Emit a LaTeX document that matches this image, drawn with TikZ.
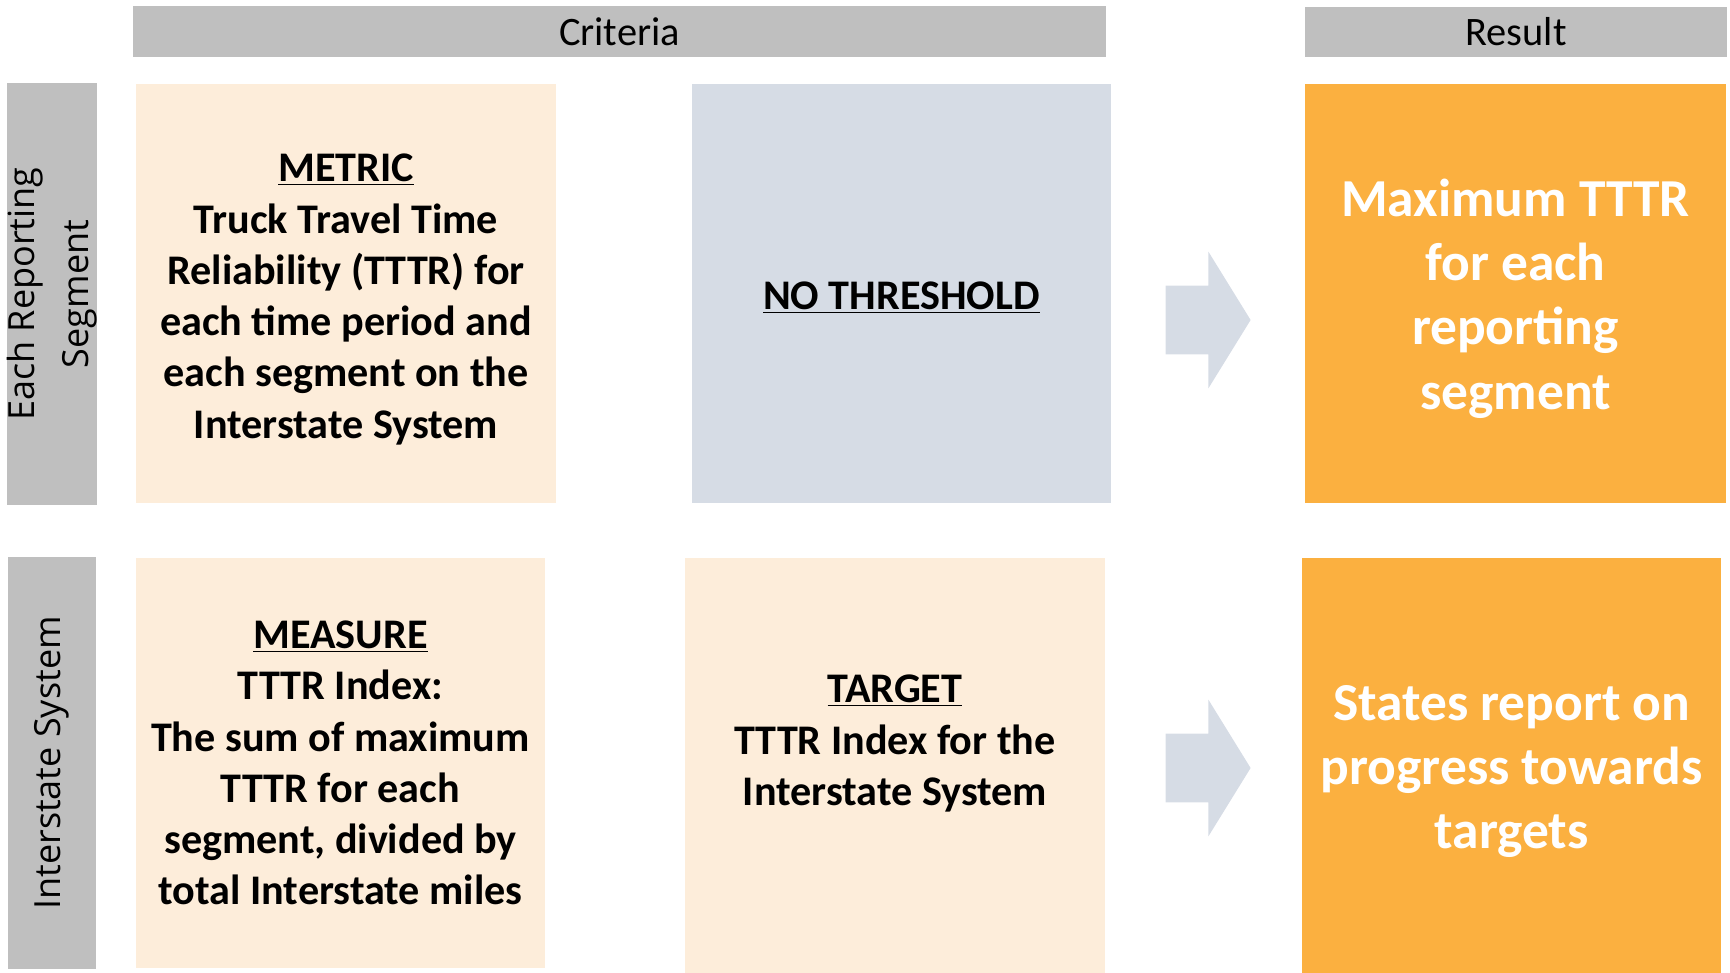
\documentclass[tikz,border=0pt]{standalone}
\usepackage{fontspec}
\setmainfont{Carlito}
\newfontfamily\labelfont{Open Sans}
\usepackage{xcolor}
\definecolor{HeadGray}    {RGB}{191, 191, 191}
\definecolor{PeachFill}   {RGB}{253, 237, 218}
\definecolor{SlateFill}   {RGB}{214, 220, 229}
\definecolor{ResultOrange}{RGB}{251, 176,  64}
\usepackage{tikz}
\usetikzlibrary{
  shapes.arrows,
  positioning
}

\begin{document}
\begin{tikzpicture}[
  headbar/.style={
    fill=HeadGray, inner sep=0pt,
    font=\fontsize{23}{28}\selectfont},
  rowlabel/.style={
    fill=HeadGray, inner sep=0pt,
    rotate=90, align=center,
    minimum height=1.76cm,
    font=\labelfont\fontsize{20.5}{31}\selectfont},
  cell/.style={
    inner sep=0pt},
  celltext/.style={
    inner sep=0pt, align=center,
    font=\bfseries\fontsize{24}{29.2}\selectfont},
  resulttext/.style={
    inner sep=0pt, align=center, text=white,
    font=\bfseries\fontsize{30.4}{36.6}\selectfont},
  flow/.style={
    single arrow, fill=SlateFill, draw=none,
    inner sep=0pt,
    text height=0.68cm, text depth=0.68cm,
    minimum height=1.7cm,
    single arrow head extend=0.68cm,
    single arrow tip angle=116.6}
]
\useasboundingbox (0,0) rectangle (34.6,-19.46);

% column headers
\node[headbar, minimum width=19.46cm, minimum height=1.02cm]
  (crit) at (12.39,-0.63) {Criteria};
\node[headbar, minimum width=8.44cm, minimum height=1.0cm]
  (res) at (30.32,-0.64) {Result};

% row headers
\node[rowlabel, minimum width=8.44cm] (row1) at (1.04,-5.88)
  {Each Reporting\\Segment};
\node[rowlabel, minimum width=8.24cm] (row2) at (1.04,-15.26)
  {Interstate System};

% boxes
\node[cell, fill=PeachFill, minimum width=8.4cm, minimum height=8.38cm]
  (metric) at (6.92,-5.87) {};
\node[cell, fill=SlateFill, minimum width=8.38cm, minimum height=8.38cm]
  (thresh) at (18.03,-5.87) {};
\node[cell, fill=ResultOrange, minimum width=8.42cm, minimum height=8.38cm]
  (res1) at (30.31,-5.87) {};
\node[cell, fill=PeachFill, minimum width=8.18cm, minimum height=8.2cm]
  (measure) at (6.81,-15.26) {};
\node[cell, fill=PeachFill, minimum width=8.4cm, minimum height=8.3cm]
  (target) at (17.9,-15.31) {};
\node[cell, fill=ResultOrange, minimum width=8.38cm, minimum height=8.3cm]
  (res2) at (30.23,-15.31) {};

% texts
\node[celltext] (metrictxt) at ([yshift=-0.12cm]metric.center)
  {\underline{METRIC}\\Truck Travel Time\\Reliability (TTTR) for\\
  each time period and\\each segment on the\\Interstate System};
\node[celltext] (threshtxt) at ([yshift=-0.09cm]thresh.center)
  {\underline{NO THRESHOLD}};
\node[resulttext] (res1txt) at ([yshift=-0.1cm]res1.center)
  {Maximum TTTR\\for each\\reporting\\segment};
\node[celltext] (measuretxt) at (measure.center)
  {\underline{MEASURE}\\TTTR Index:\\The sum of maximum\\TTTR for each\\
  segment, divided by\\total Interstate miles};
\node[celltext] (targettxt) at ([yshift=0.44cm]target.center)
  {\underline{TARGET}\\TTTR Index for the\\Interstate System};
\node[resulttext] (res2txt) at ([yshift=-0.12cm]res2.center)
  {States report on\\progress towards\\targets};

% block arrows
\node[flow] (flow1) at (23.95,-6.4) {};
\node[flow] (flow2) at (23.95,-15.36) {};
\end{tikzpicture}
\end{document}
